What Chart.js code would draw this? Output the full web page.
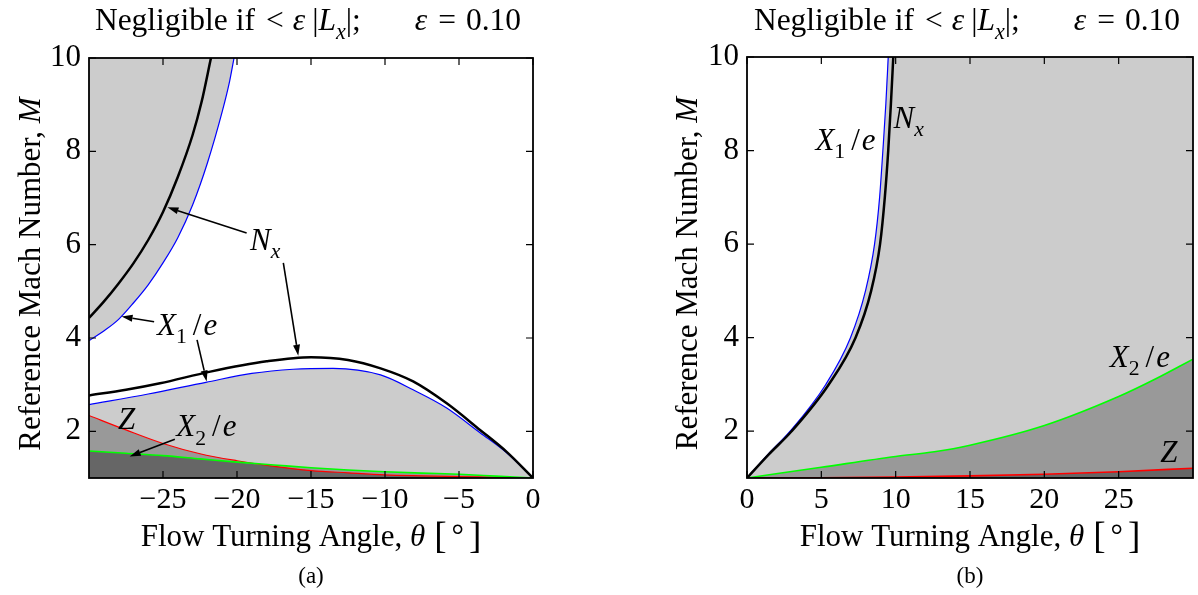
<!DOCTYPE html>
<html>
<head>
<meta charset="utf-8">
<script src="https://cdn.jsdelivr.net/npm/chart.js@4.4.0/dist/chart.umd.min.js"></script>
<style>
html,body{margin:0;padding:0;background:#fff}
#wrap{position:relative;width:1198px;height:595px;overflow:hidden}
.pane{position:absolute;top:0}
</style>
</head>
<body>
<div id="wrap">
  <canvas class="pane" id="chartA" width="600" height="595" style="left:0"></canvas>
  <canvas class="pane" id="chartB" width="598" height="595" style="left:600px"></canvas>
</div>
<script>
// ---- panel (a): negative turning angle ----
const thetaNxUpA = [-30, -29, -28, -27, -26, -25, -24, -23, -22.4, -21.76]
const machNxUpA  = [4.43, 4.78, 5.17, 5.60, 6.10, 6.70, 7.45, 8.35, 9.05, 10.0]
const thetaX1UpA = [-30, -29, -28, -27, -26, -25, -24, -23, -22, -21, -20.5, -20.2]
const machX1UpA  = [3.94, 4.15, 4.40, 4.75, 5.14, 5.61, 6.15, 6.85, 7.75, 8.85, 9.50, 10.0]
const thetaNxLoA = [-30, -27.5, -25.2, -21.8, -18, -15, -12.5, -10.3, -8.1, -5.83, -3.58, -1.78, 0]
const machNxLoA  = [2.77, 2.89, 3.03, 3.28, 3.50, 3.59, 3.53, 3.35, 3.07, 2.60, 2.03, 1.56, 1.0]
const thetaX1LoA = [-30, -26, -22.1, -19, -16.2, -13.5, -10.3, -8.1, -5.83, -3.58, -1.78, 0]
const machX1LoA  = [2.57, 2.80, 3.05, 3.24, 3.33, 3.35, 3.21, 2.89, 2.50, 1.97, 1.54, 1.0]
const thetaLowA  = [-30, -27.5, -25, -22.5, -20, -17.5, -15, -12.5, -10, -7.5, -5, -2.5, 0]
const machZA     = [2.34, 2.03, 1.74, 1.52, 1.37, 1.25, 1.16, 1.11, 1.065, 1.045, 1.03, 1.015, 1.0]
const machX2A    = [1.58, 1.53, 1.48, 1.41, 1.34, 1.28, 1.22, 1.17, 1.135, 1.105, 1.08, 1.04, 1.0]
const xTicksA = [-25, -20, -15, -10, -5, 0]

// ---- panel (b): positive turning angle ----
const thetaX1B = [0, 1.4, 2.9, 5.3, 6.96, 7.97, 8.58, 8.92, 9.14, 9.34, 9.5]
const machX1B  = [1.0, 1.5, 2.0, 3.0, 4.0, 5.0, 6.0, 7.0, 8.0, 9.0, 10.0]
const thetaNxB = [0, 1.45, 3.0, 5.5, 7.3, 8.35, 8.95, 9.27, 9.5, 9.68, 9.84]
const machNxB  = [1.0, 1.5, 2.0, 3.0, 4.0, 5.0, 6.0, 7.0, 8.0, 9.0, 10.0]
const thetaX2B = [0, 5, 10, 12.6, 15, 20, 25, 27.5, 30]
const machX2B  = [1.0, 1.23, 1.46, 1.56, 1.70, 2.12, 2.74, 3.12, 3.54]
const thetaZB  = [0, 5, 10, 15, 20, 25, 30]
const machZB   = [1.0, 1.005, 1.02, 1.045, 1.08, 1.135, 1.21]
const xTicksB = [0, 5, 10, 15, 20, 25]

const yTicks = [2, 4, 6, 8, 10]

const serif = '"Liberation Serif", "Times New Roman", serif'
const LIGHT = '#cccccc', MID = '#999999', DARK = '#666666'

const pts = (xs, ys) => xs.map((x, i) => ({x, y: ys[i]}))

function line(data, color, width){
  return {data, borderColor: color, borderWidth: width, pointRadius: 0, fill: false, cubicInterpolationMode: 'monotone'}
}
function area(data, color, to){
  return {data, borderColor: 'rgba(0,0,0,0)', borderWidth: 0, pointRadius: 0, backgroundColor: color, fill: to, cubicInterpolationMode: 'monotone'}
}

// parts: [text, style, extra]; style r|i roman/italic, s* = subscript, g = gap of extra px, b = big (scaled) roman
function drawRich(ctx, parts, x, y, size, align){
  const segs = parts.map(([t, st, k]) => {
    if (st === 'g') return {t: '', w: k, dy: 0}
    const sub = st[0] === 's'
    const it = st.endsWith('i')
    const fs = sub ? size * 0.7 : st === 'b' ? size * k : size
    const font = `${it ? 'italic ' : ''}${fs}px ${serif}`
    ctx.font = font
    return {t, font, w: ctx.measureText(t).width, dy: sub ? size * 0.27 : st === 'b' ? size * 0.06 : 0}
  })
  const total = segs.reduce((a, s) => a + s.w, 0)
  let cx = align === 'center' ? x - total / 2 : align === 'right' ? x - total : x
  ctx.textAlign = 'left'
  ctx.textBaseline = 'alphabetic'
  segs.forEach(s => { if (s.t) { ctx.font = s.font; ctx.fillText(s.t, cx, y + s.dy) } cx += s.w })
}

const titleParts = [['Negligible if', 'r'], ['', 'g', 11], ['<', 'r'], ['', 'g', 9], ['ε', 'i'], ['', 'g', 7],
  ['|', 'r'], ['L', 'i'], ['x', 'si'], ['|;', 'r'], ['', 'g', 54], ['ε', 'i'], ['', 'g', 11], ['=', 'r'], ['', 'g', 10], ['0.10', 'r']]
const yTitleParts = [['Reference Mach Number, ', 'r'], ['M', 'i']]
const xTitleParts = [['Flow Turning Angle, ', 'r'], ['θ', 'i'], ['', 'g', 9], ['[', 'b', 1.2], ['', 'g', 5], ['°', 'r'], ['', 'g', 5], [']', 'b', 1.2]]
const NX = [['N', 'i'], ['x', 'si']]
const X1 = [['X', 'i'], ['1', 'sr'], ['', 'g', 6], ['/', 'r'], ['', 'g', 2], ['e', 'i']]
const X2 = [['X', 'i'], ['2', 'sr'], ['', 'g', 6], ['/', 'r'], ['', 'g', 2], ['e', 'i']]
const ZZ = [['Z', 'i']]

const decor = {
  id: 'decor',
  afterDraw(chart, args, o){
    const {ctx, chartArea: a, scales: {x, y}} = chart
    ctx.save()
    ctx.strokeStyle = '#000'
    ctx.fillStyle = '#000'
    ctx.lineWidth = 1.2
    ctx.beginPath()
    o.xTicks.forEach(v => {
      const px = x.getPixelForValue(v)
      ctx.moveTo(px, a.bottom); ctx.lineTo(px, a.bottom - 7)
      ctx.moveTo(px, a.top); ctx.lineTo(px, a.top + 7)
    })
    yTicks.forEach(v => {
      const py = y.getPixelForValue(v)
      ctx.moveTo(a.left, py); ctx.lineTo(a.left + 7, py)
      ctx.moveTo(a.right, py); ctx.lineTo(a.right - 7, py)
    })
    ctx.stroke()
    ctx.lineWidth = 1.8
    ctx.strokeRect(a.left, a.top, a.right - a.left, a.bottom - a.top)

    // arrows
    ctx.lineWidth = 1.6
    o.arrows.forEach(([f, t]) => {
      const x0 = x.getPixelForValue(f[0]), y0 = y.getPixelForValue(f[1])
      const x1 = x.getPixelForValue(t[0]), y1 = y.getPixelForValue(t[1])
      const ang = Math.atan2(y1 - y0, x1 - x0)
      const L = 11, W = 3.5
      const bx = x1 - L * Math.cos(ang), by = y1 - L * Math.sin(ang)
      ctx.beginPath(); ctx.moveTo(x0, y0); ctx.lineTo(bx, by); ctx.stroke()
      ctx.beginPath()
      ctx.moveTo(x1, y1)
      ctx.lineTo(bx + W * Math.sin(ang), by - W * Math.cos(ang))
      ctx.lineTo(bx - W * Math.sin(ang), by + W * Math.cos(ang))
      ctx.closePath(); ctx.fill()
    })
    o.labels.forEach(l => drawRich(ctx, l.parts, x.getPixelForValue(l.at[0]), y.getPixelForValue(l.at[1]), 31, 'left'))

    const cx = (a.left + a.right) / 2
    drawRich(ctx, titleParts, cx - 3, 30, 31.5, 'center')
    drawRich(ctx, xTitleParts, cx, 546, 31, 'center')
    drawRich(ctx, [[o.caption, 'r']], cx, 583, 23, 'center')
    ctx.translate(o.yTitleX, (a.top + a.bottom) / 2 + 6)
    ctx.rotate(-Math.PI / 2)
    drawRich(ctx, yTitleParts, 0, 0, 31, 'center')
    ctx.restore()
  }
}

function makeChart(id, datasets, xr, xTicks, geo, extra){
  const fmt = v => String(v).replace('-', '\u2212')
  return new Chart(document.getElementById(id), {
    type: 'line',
    data: {datasets},
    plugins: [decor],
    options: {
      responsive: false,
      animation: false,
      events: [],
      layout: {padding: {left: 0, right: geo.right, top: geo.top, bottom: 0}},
      scales: {
        x: {
          type: 'linear', min: xr[0], max: xr[1],
          afterBuildTicks: s => { s.ticks = xTicks.map(v => ({value: v})) },
          afterFit: s => { s.height = geo.xh },
          grid: {display: false, drawTicks: false},
          border: {display: false},
          ticks: {color: '#000', padding: 4, font: {family: serif, size: 30}, callback: v => fmt(v), maxRotation: 0, autoSkip: false}
        },
        y: {
          type: 'linear', min: 1, max: 10,
          afterBuildTicks: s => { s.ticks = yTicks.map(v => ({value: v})) },
          afterFit: s => { s.width = geo.yw },
          grid: {display: false, drawTicks: false},
          border: {display: false},
          ticks: {color: '#000', padding: 8, font: {family: serif, size: 31}, autoSkip: false}
        }
      },
      plugins: {
        legend: {display: false},
        tooltip: {enabled: false},
        filler: {drawTime: 'beforeDatasetsDraw'},
        decor: Object.assign({xTicks}, extra)
      }
    }
  })
}

// panel (a)
const machDarkA = machZA.map((m, i) => Math.min(m, machX2A[i]))
makeChart('chartA', [
  line(pts(thetaNxUpA, machNxUpA), '#000000', 2.5),
  line(pts(thetaNxLoA, machNxLoA), '#000000', 2.5),
  line(pts(thetaX1UpA, machX1UpA), '#0000ff', 1.2),
  line(pts(thetaX1LoA, machX1LoA), '#0000ff', 1.2),
  line(pts(thetaLowA, machX2A), '#00ff00', 1.6),
  line(pts(thetaLowA, machZA), '#ff0000', 1.2),
  area(pts(thetaLowA, machDarkA), DARK, 'start'),
  area(pts(thetaLowA, machZA), MID, 'start'),
  area(pts(thetaLowA, machX2A), MID, 'start'),
  area(pts(thetaX1LoA, machX1LoA), LIGHT, 'start'),
  area(pts(thetaX1UpA, machX1UpA), LIGHT, 'end')
], [-30, 0], xTicksA, {right: 67, top: 58, xh: 117, yw: 89}, {
  caption: '(a)', yTitleX: 40,
  arrows: [
    [[-19.35, 6.25], [-24.7, 6.80]],
    [[-16.87, 5.61], [-15.86, 3.62]],
    [[-25.6, 4.35], [-27.8, 4.46]],
    [[-22.7, 3.96], [-22.05, 3.07]],
    [[-24.2, 1.83], [-27.25, 1.46]]
  ],
  labels: [
    {parts: NX, at: [-19.12, 5.89]},
    {parts: X1, at: [-25.4, 4.07]},
    {parts: ZZ, at: [-28.04, 2.05]},
    {parts: X2, at: [-24.1, 1.89]}
  ]
})

// panel (b)
makeChart('chartB', [
  line(pts(thetaNxB, machNxB), '#000000', 2.5),
  line(pts(thetaX1B, machX1B), '#0000ff', 1.2),
  line(pts(thetaX2B, machX2B), '#00ff00', 1.6),
  line(pts(thetaZB, machZB), '#ff0000', 1.6),
  area(pts(thetaZB, machZB), DARK, 'start'),
  area(pts(thetaX2B, machX2B), MID, 'start'),
  area(pts(thetaX1B, machX1B).concat([{x: 30, y: 10}]), LIGHT, 'start')
], [0, 30], xTicksB, {right: 5, top: 57, xh: 117, yw: 147}, {
  caption: '(b)', yTitleX: 97,
  arrows: [],
  labels: [
    {parts: X1, at: [4.6, 8.01]},
    {parts: NX, at: [9.86, 8.49]},
    {parts: X2, at: [24.4, 3.38]},
    {parts: ZZ, at: [27.8, 1.35]}
  ]
})
</script>
</body>
</html>
